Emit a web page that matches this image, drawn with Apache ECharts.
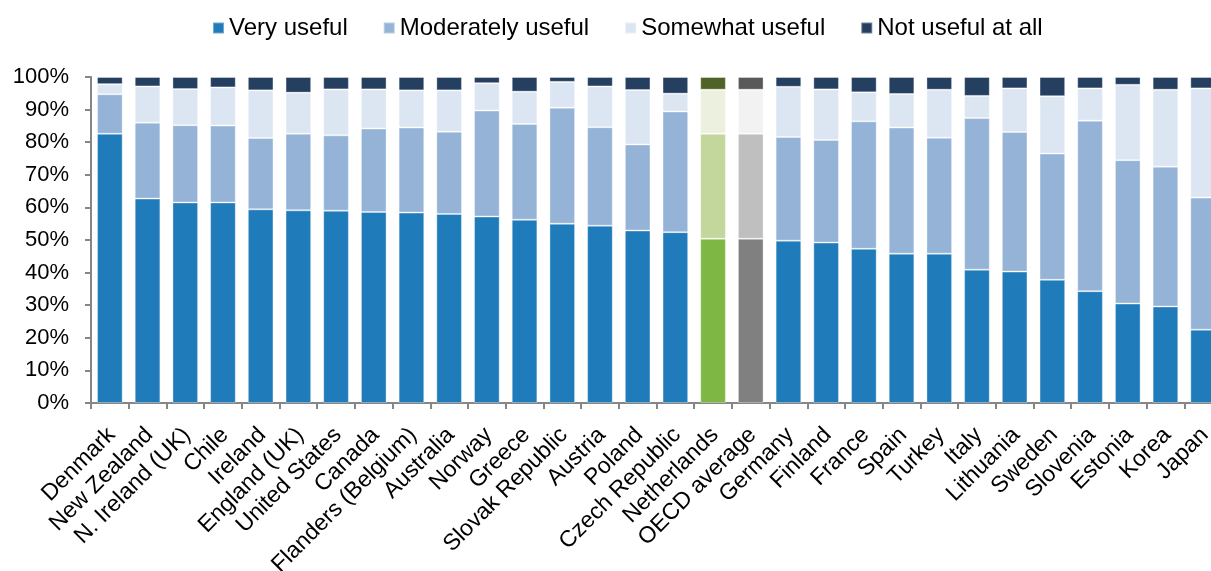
<!DOCTYPE html>
<html><head><meta charset="utf-8">
<script src="https://cdn.jsdelivr.net/npm/echarts@6/dist/echarts.min.js"></script>
<style>html,body{margin:0;padding:0;background:#fff}#c{width:1211px;height:571px}</style>
</head><body><div id="c"></div>
<script>
const categories = ["Denmark","New Zealand","N. Ireland (UK)","Chile","Ireland","England (UK)","United States","Canada","Flanders (Belgium)","Australia","Norway","Greece","Slovak Republic","Austria","Poland","Czech Republic","Netherlands","OECD average","Germany","Finland","France","Spain","Turkey","Italy","Lithuania","Sweden","Slovenia","Estonia","Korea","Japan"];
const veryUseful = [82.6,62.7,61.5,61.5,59.4,59.1,59.0,58.6,58.4,58.0,57.2,56.2,55.0,54.4,52.9,52.4,50.4,50.4,49.8,49.2,47.3,45.8,45.8,40.9,40.3,37.8,34.3,30.5,29.6,22.5];
const moderatelyUseful = [12.1,23.3,23.7,23.6,21.9,23.5,23.1,25.6,26.1,25.2,32.5,29.4,35.6,30.2,26.4,37.0,32.2,32.2,31.8,31.5,39.1,38.7,35.6,46.5,42.8,38.7,52.3,44.0,42.9,40.5];
const somewhatUseful = [3.1,11.1,11.1,11.7,14.6,12.6,14.1,12.0,11.4,12.7,8.4,9.9,7.9,12.5,16.7,5.5,13.5,13.5,15.4,15.5,8.9,10.3,14.7,6.8,13.4,17.6,9.9,23.1,23.6,33.5];
const notUseful = [2.2,2.9,3.7,3.2,4.1,4.8,3.8,3.8,4.1,4.1,1.9,4.5,1.5,2.9,4.0,5.1,3.9,3.9,3.0,3.8,4.7,5.2,3.9,5.8,3.5,5.9,3.5,2.4,3.9,3.5];
const seriesNames = ["Very useful","Moderately useful","Somewhat useful","Not useful at all"];
const yTicks = [0,10,20,30,40,50,60,70,80,90,100];

const baseColors = ["#1F7BBA","#95B3D7","#DCE6F2","#243F60"];
const nlColors = ["#7FB744","#C3D69B","#EBF1DE","#4F6228"];
const oecdColors = ["#808080","#BFBFBF","#F2F2F2","#595959"];
const values = [veryUseful, moderatelyUseful, somewhatUseful, notUseful];

function mk(si){
  return values[si].map((v,i)=>{
    if(categories[i]==="Netherlands") return {value:v,itemStyle:{color:nlColors[si]}};
    if(categories[i]==="OECD average") return {value:v,itemStyle:{color:oecdColors[si]}};
    return v;
  });
}
const font = "Liberation Sans, Arial, sans-serif";
const chart = echarts.init(document.getElementById('c'), null, {renderer:'canvas'});
chart.setOption({
  animation:false,
  color: baseColors,
  legend:{
    top:16, left:212, padding:0,
    itemWidth:11, itemHeight:11, itemGap:35,
    icon:'rect',
    textStyle:{fontFamily:font,fontSize:24,color:'#000'},
    data: seriesNames
  },
  grid:{left:91,right:-11,top:77,bottom:168,outerBoundsMode:'none'},
  xAxis:{
    type:'category', data:categories,
    axisLine:{lineStyle:{color:'#868686',width:2}},
    axisTick:{show:true,length:6,lineStyle:{color:'#868686',width:2}},
    axisLabel:{interval:0,rotate:45,fontFamily:font,fontSize:23,color:'#000',margin:14,verticalAlign:'top',padding:[0,9,0,0]}
  },
  yAxis:{
    type:'value', min:0, max:100, interval:10,
    axisLine:{show:true,lineStyle:{color:'#868686',width:2}},
    axisTick:{show:true,length:6,lineStyle:{color:'#868686',width:2}},
    splitLine:{show:false},
    axisLabel:{fontFamily:font,fontSize:22,color:'#000',margin:22,formatter:v=>yTicks.includes(v)?v+'%':''}
  },
  series: seriesNames.map((n,si)=>({
    name:n, type:'bar', stack:'total', barWidth:'68%',
    itemStyle:{borderColor:'rgba(255,255,255,0.35)',borderWidth:1},
    data: mk(si)
  }))
});
</script></body></html>
